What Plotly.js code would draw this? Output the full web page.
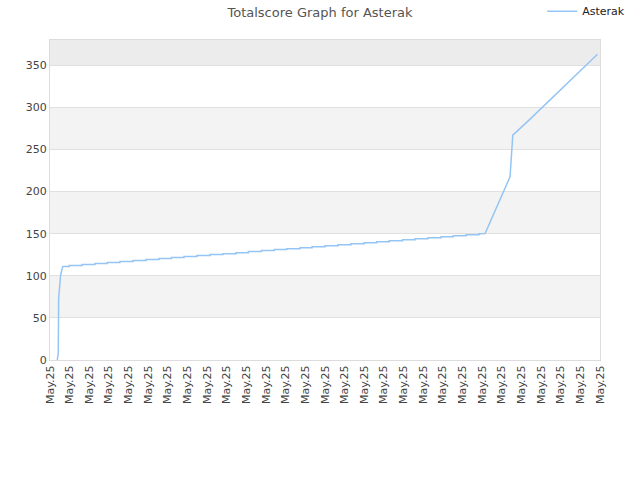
<!DOCTYPE html>
<html>
<head>
<meta charset="utf-8">
<script src="https://cdn.plot.ly/plotly-3.0.1.min.js"></script>
<style>html,body{margin:0;padding:0;background:#fff}#chart{width:640px;height:480px}</style>
</head>
<body>
<div id="chart"></div>
<script>
// x positions are in tick units (one tick = one "May.25" label)
var tickLabels = ['May.25','May.25','May.25','May.25','May.25','May.25','May.25','May.25','May.25','May.25',
  'May.25','May.25','May.25','May.25','May.25','May.25','May.25','May.25','May.25','May.25',
  'May.25','May.25','May.25','May.25','May.25','May.25','May.25','May.25','May.25'];

// first climb
var riseX = [0.37, 0.42, 0.44, 0.49, 0.54];
var riseY = [0, 8, 73, 88, 101];

// slow staircase section
var stepX = [0.65, 0.98, 1.63, 2.29, 2.92, 3.56, 4.23, 4.89, 5.55, 6.18, 6.82, 7.48, 8.15, 8.81, 9.47, 10.1,
  10.76, 11.42, 12.05, 12.73, 13.34, 14.0, 14.66, 15.32, 15.99, 16.63, 17.27, 17.94, 18.58, 19.24, 19.91,
  20.53, 21.18, 21.84];
var stepY = [111, 112.2, 113.4, 114.5, 115.7, 116.9, 118.1, 119.3, 120.4, 121.6, 122.8, 124, 125.2, 126.3,
  127.5, 128.7, 129.9, 131.1, 132.2, 133.4, 134.6, 135.8, 137, 138.1, 139.3, 140.5, 141.7, 142.9, 144,
  145.2, 146.4, 147.6, 148.8, 150];

// late climb and tail
var tailX = [22.15, 23.42, 23.56, 24.44, 25.17, 26.23, 27.32, 27.87];
var tailY = [150.3, 217.5, 267, 286, 302.5, 326, 350.5, 363];

var xs = riseX.slice(), ys = riseY.slice();
for (var i = 0; i < stepX.length; i++) {
  if (i > 0) { xs.push(stepX[i]); ys.push(stepY[i - 1]); }
  xs.push(stepX[i]); ys.push(stepY[i]);
}
xs = xs.concat(tailX); ys = ys.concat(tailY);

var bands = [[50, 100, '#f3f3f3'], [150, 200, '#f3f3f3'], [250, 300, '#f3f3f3'], [350, 380, '#ececec']];
var shapes = bands.map(function (b) {
  return { type: 'rect', xref: 'paper', yref: 'y', x0: 0, x1: 1, y0: b[0], y1: b[1],
    fillcolor: b[2], line: { width: 0 }, layer: 'below' };
});

var data = [{
  x: xs, y: ys, type: 'scatter', mode: 'lines', name: 'Asterak',
  line: { color: '#95c5f4', width: 1.5 }
}];

var layout = {
  width: 640, height: 480,
  margin: { l: 50, r: 40, t: 40, b: 120, autoexpand: false },
  paper_bgcolor: '#fff', plot_bgcolor: 'rgba(0,0,0,0)',
  font: { family: 'DejaVu Sans, sans-serif', size: 11, color: '#444' },
  title: { text: 'Totalscore Graph for Asterak', x: 0.5, xanchor: 'center', y: 0.975, yanchor: 'middle',
    font: { size: 13, color: '#555' } },
  showlegend: true,
  legend: { x: 1.055, y: 1.09, xanchor: 'right', yanchor: 'middle', itemwidth: 30,
    font: { size: 11, color: '#222' }, bgcolor: 'rgba(0,0,0,0)' },
  shapes: shapes,
  xaxis: {
    range: [0, 28], tickmode: 'array', tickvals: tickLabels.map(function (t, i) { return i; }),
    ticktext: tickLabels, tickangle: -90, showgrid: false, zeroline: false, automargin: false,
    showline: true, linecolor: '#dcdcdc', mirror: true, ticks: '', tickfont: { size: 11, color: '#444' }
  },
  yaxis: {
    range: [0, 380], dtick: 50, tick0: 0, gridcolor: '#e0e0e0', zeroline: false, automargin: false,
    showline: true, linecolor: '#dcdcdc', mirror: true, ticks: '', tickfont: { size: 11, color: '#444' }
  }
};

Plotly.newPlot('chart', data, layout, { displayModeBar: false, staticPlot: true });
</script>
</body>
</html>
